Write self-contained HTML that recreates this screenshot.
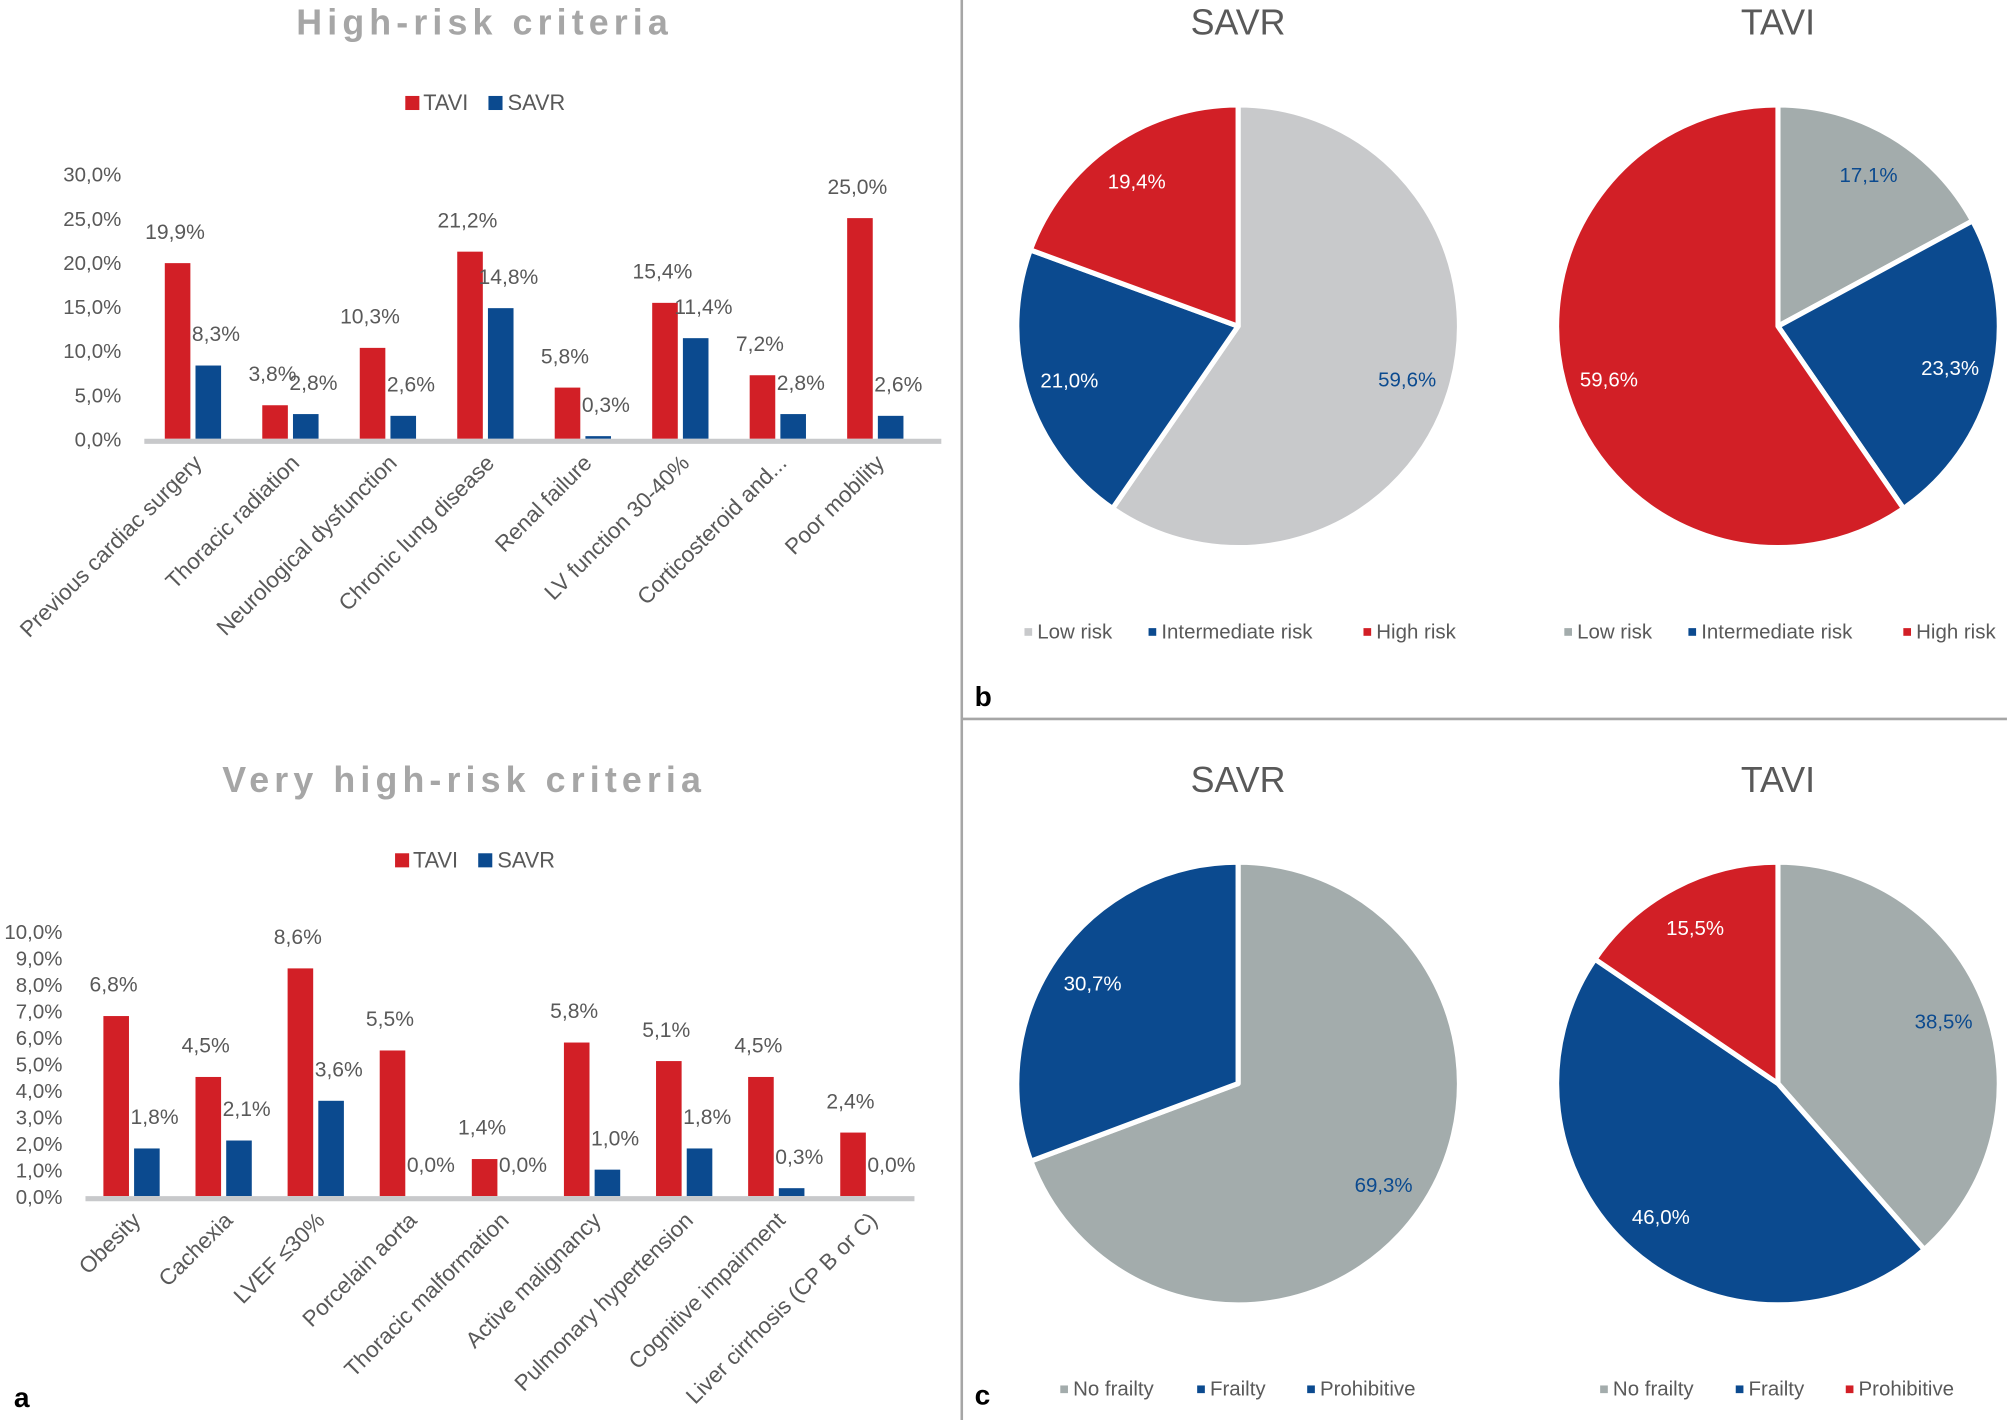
<!DOCTYPE html>
<html><head><meta charset="utf-8"><style>
html,body{margin:0;padding:0;background:#fff;}
svg{display:block;font-family:"Liberation Sans",sans-serif;}
</style></head><body>
<svg id="root" width="2008" height="1420" viewBox="0 0 1568 1110" xmlns="http://www.w3.org/2000/svg">
<rect width="1568" height="1110" fill="#fff"/>
<line x1="751" y1="0" x2="751" y2="1110" stroke="#a6a6a6" stroke-width="2"/>
<line x1="751" y1="562" x2="1568" y2="562" stroke="#a6a6a6" stroke-width="2"/>
<text x="10" y="1100" font-size="22" font-weight="bold" fill="#000">a</text>
<text x="761" y="552" font-size="22" font-weight="bold" fill="#000">b</text>
<text x="761" y="1098" font-size="22" font-weight="bold" fill="#000">c</text>
<g id="bars"></g>
<g id="pies"></g>
</svg>
<script>
const hrCategories=["Previous cardiac surgery","Thoracic radiation","Neurological dysfunction","Chronic lung disease","Renal failure","LV function 30-40%","Corticosteroid and...","Poor mobility"];
const hrTavi=[19.9,3.8,10.3,21.2,5.8,15.4,7.2,25.0];
const hrSavr=[8.3,2.8,2.6,14.8,0.3,11.4,2.8,2.6];
const hrTicks=[0,5,10,15,20,25,30];
const vhCategories=["Obesity","Cachexia","LVEF \u226430%","Porcelain aorta","Thoracic malformation","Active malignancy","Pulmonary hypertension","Cognitive impairment","Liver cirrhosis (CP B or C)"];
const vhTavi=[6.8,4.5,8.6,5.5,1.4,5.8,5.1,4.5,2.4];
const vhSavr=[1.8,2.1,3.6,0.0,0.0,1.0,1.8,0.3,0.0];
const vhTicks=[0,1,2,3,4,5,6,7,8,9,10];
const savrRiskLabels=["Low risk","Intermediate risk","High risk"];
const savrRisk=[59.6,21.0,19.4];
const taviRiskLabels=["Low risk","Intermediate risk","High risk"];
const taviRisk=[17.1,23.3,59.6];
const savrFrailLabels=["No frailty","Frailty","Prohibitive"];
const savrFrail=[69.3,30.7,0];
const taviFrailLabels=["No frailty","Frailty","Prohibitive"];
const taviFrail=[38.5,46.0,15.5];

const NS="http://www.w3.org/2000/svg";
const RED="#d21f26",BLUE="#0b4a8f",TXT="#595959";
function mk(tag,attrs,parent,text){const e=document.createElementNS(NS,tag);for(const k in attrs)e.setAttribute(k,attrs[k]);if(text!==undefined)e.textContent=text;parent.appendChild(e);return e;}
function fmt(v){return v.toFixed(1).replace('.',',')+'%';}

function barChart(cfg){
  const g=mk('g',{},document.getElementById('bars'));
  
  
  const y=v=>cfg.y0-(v/cfg.max)*(cfg.y0-cfg.yTop);
  const t=mk('text',{x:cfg.titleX,y:cfg.titleY,'font-size':28,'font-weight':'bold','letter-spacing':4,fill:'#a6a6a6','text-anchor':'middle'},g,cfg.title);
  
  
  const l1=mk('rect',{x:cfg.legX,y:cfg.legY-11,width:11,height:11,fill:RED},g);
  
  
  const lt1=mk('text',{x:cfg.legX+14,y:cfg.legY,'font-size':17,fill:TXT},g,'TAVI');
  
  
  const l2=mk('rect',{x:cfg.legX+65,y:cfg.legY-11,width:11,height:11,fill:BLUE},g);
  
  
  const lt2=mk('text',{x:cfg.legX+80,y:cfg.legY,'font-size':17,fill:TXT},g,'SAVR');
  
  
  cfg.ticks.forEach(v=>{
    const tk=mk('text',{x:cfg.axisLabelX,y:y(v)+6,'font-size':16,fill:TXT,'text-anchor':'end'},g,fmt(v));
    
    
  });
  cfg.cats.forEach((c,i)=>{
    const cx=cfg.c0+i*cfg.step;
    const bw=20;
    const rv=cfg.tavi[i],bv=cfg.savr[i];
    const r=mk('rect',{x:cx-bw-2,y:y(rv),width:bw,height:cfg.y0-y(rv),fill:RED},g);
    
    
    const b=mk('rect',{x:cx+2,y:y(bv),width:bw,height:cfg.y0-y(bv),fill:BLUE},g);
    
    
    const rl=mk('text',{x:cx-bw/2-4,y:y(rv)-19,'font-size':16.5,fill:TXT,'text-anchor':'middle'},g,fmt(rv));
    
    
    const bl=mk('text',{x:cx+bw/2+8,y:y(bv)-19,'font-size':16.5,fill:TXT,'text-anchor':'middle'},g,fmt(bv));
    
    
    const cl=mk('text',{x:cx+8,y:cfg.y0+20,'font-size':17.5,fill:TXT,'text-anchor':'end',transform:`rotate(-45 ${cx+8} ${cfg.y0+20})`},g,c);
    
    
  });
  const ax=mk('line',{x1:cfg.axX1,x2:cfg.axX2,y1:cfg.y0+2,y2:cfg.y0+2,stroke:'#c8c9cb','stroke-width':4},g);
  
  
}
barChart({name:'high-risk-chart',title:'High-risk criteria',titleX:378,titleY:27,legX:316,legY:86,cats:hrCategories,tavi:hrTavi,savr:hrSavr,ticks:hrTicks,max:30,y0:343,yTop:136,axisLabelX:94,c0:150,step:76.2,axX1:112,axX2:735});
barChart({name:'very-high-risk-chart',title:'Very high-risk criteria',titleX:362,titleY:619,legX:308,legY:678,cats:vhCategories,tavi:vhTavi,savr:vhSavr,ticks:vhTicks,max:10,y0:935,yTop:728,axisLabelX:48,c0:102,step:72,axX1:66,axX2:714});

function pie(cfg){
  const g=mk('g',{},document.getElementById('pies'));
  
  
  const t=mk('text',{x:cfg.cx,y:cfg.titleY,'font-size':28,fill:TXT,'text-anchor':'middle'},g,cfg.title);
  
  
  const total=cfg.vals.reduce((a,b)=>a+b,0);
  let a0=0;const R=173;
  cfg.vals.forEach((v,i)=>{
    if(v<=0)return;
    const a1=a0+v/total*2*Math.PI;
    const p=(a)=>[cfg.cx+R*Math.sin(a),cfg.cy-R*Math.cos(a)];
    const [x0,y0]=p(a0),[x1,y1]=p(a1);
    const large=(a1-a0)>Math.PI?1:0;
    const s=mk('path',{d:`M${cfg.cx},${cfg.cy} L${x0},${y0} A${R},${R} 0 ${large} 1 ${x1},${y1} Z`,fill:cfg.colors[i],stroke:'#fff','stroke-width':4,'stroke-linejoin':'round'},g);
    
    
    const am=(a0+a1)/2,rr=R*0.8;
    const lb=mk('text',{x:cfg.cx+rr*Math.sin(am),y:cfg.cy-rr*Math.cos(am)+6,'font-size':16,fill:cfg.textColors[i],'text-anchor':'middle'},g,fmt(v));
    
    
    a0=a1;
  });
  cfg.labels.forEach((l,i)=>{
    const sw=mk('rect',{x:cfg.legX[i],y:cfg.legY-8,width:6,height:6,fill:cfg.legColors[i]},g);
    
    
    const lt=mk('text',{x:cfg.legX[i]+10,y:cfg.legY,'font-size':16,fill:TXT},g,l);
    
    
  });
}
const LG="#c8c9cb",MG="#a3acac";
pie({name:'savr-risk-pie',title:'SAVR',cx:967,cy:255,titleY:27,vals:savrRisk,labels:savrRiskLabels,colors:[LG,BLUE,RED],textColors:[BLUE,'#fff','#fff'],legX:[800,897,1065],legY:499,legColors:[LG,BLUE,RED]});
pie({name:'tavi-risk-pie',title:'TAVI',cx:1389,cy:255,titleY:27,vals:taviRisk,labels:taviRiskLabels,colors:[MG,BLUE,RED],textColors:[BLUE,'#fff','#fff'],legX:[1222,1319,1487],legY:499,legColors:[MG,BLUE,RED]});
pie({name:'savr-frailty-pie',title:'SAVR',cx:967,cy:847,titleY:619,vals:savrFrail,labels:savrFrailLabels,colors:[MG,BLUE,RED],textColors:[BLUE,'#fff','#fff'],legX:[828,935,1021],legY:1091,legColors:[MG,BLUE,BLUE]});
pie({name:'tavi-frailty-pie',title:'TAVI',cx:1389,cy:847,titleY:619,vals:taviFrail,labels:taviFrailLabels,colors:[MG,BLUE,RED],textColors:[BLUE,'#fff','#fff'],legX:[1250,1356,1442],legY:1091,legColors:[MG,BLUE,RED]});
</script>
</body></html>
